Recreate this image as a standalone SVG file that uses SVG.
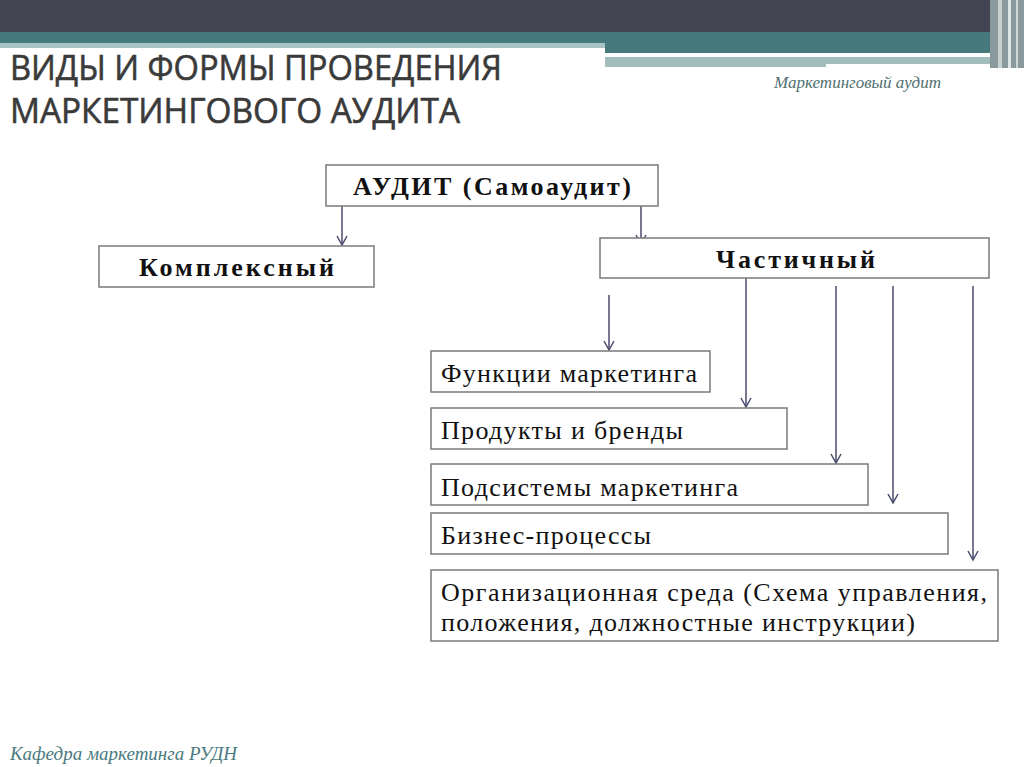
<svg xmlns="http://www.w3.org/2000/svg" width="1024" height="767" viewBox="0 0 1024 767">
<style>
.box{fill:#fff;stroke:#7a7a7a;stroke-width:1.5}
.t{font-family:"Liberation Serif",serif;font-size:26px;fill:#111}
.b{font-weight:bold}
.c line{stroke:#4b4b6e;stroke-width:1.5}
</style>
<defs><marker id="a" markerWidth="14" markerHeight="14" refX="10" refY="6" orient="auto" markerUnits="userSpaceOnUse"><path d="M1,1 L10,6 L1,11" fill="none" stroke="#4b4b6e" stroke-width="1.5"/></marker></defs>
<rect width="1024" height="767" fill="#fff"/>
<rect x="0" y="0" width="1024" height="32" fill="#424452"/>
<rect x="0" y="32" width="1000" height="11" fill="#45797c"/>
<rect x="0" y="43" width="605" height="5" fill="#a9c4c4"/>
<rect x="605" y="43" width="395" height="10" fill="#45797c"/>
<rect x="605" y="53" width="345" height="4" fill="#fff"/>
<rect x="605" y="57" width="400" height="10" fill="#a3bdbd"/>
<rect x="826" y="64" width="180" height="4" fill="#fff"/>
<rect x="990" y="0" width="34" height="68" fill="#8a9a9c"/>
<rect x="998" y="0" width="4" height="68" fill="#c8d0d0"/>
<rect x="1008" y="0" width="3" height="68" fill="#e0e5e5"/>
<rect x="1016" y="0" width="2" height="68" fill="#d0d6d6"/>
<text x="10" y="80" font-family="'Open Sans',sans-serif" font-size="35" fill="#3a3a3a" stroke="#3a3a3a" stroke-width="0.6" textLength="492" lengthAdjust="spacingAndGlyphs">ВИДЫ И ФОРМЫ ПРОВЕДЕНИЯ</text>
<text x="10" y="123" font-family="'Open Sans',sans-serif" font-size="35" fill="#3a3a3a" stroke="#3a3a3a" stroke-width="0.6" textLength="450" lengthAdjust="spacingAndGlyphs">МАРКЕТИНГОВОГО АУДИТА</text>
<text x="941" y="88" text-anchor="end" font-family="'Liberation Serif',serif" font-style="italic" font-size="17" fill="#4f6f72">Маркетинговый аудит</text>
<text x="10" y="760" font-family="'Liberation Serif',serif" font-style="italic" font-size="19" fill="#4a7a80">Кафедра маркетинга РУДН</text>
<g class="c">
<line x1="342" y1="206" x2="342" y2="245" marker-end="url(#a)"/>
<line x1="641" y1="206" x2="641" y2="244" marker-end="url(#a)"/>
<line x1="609" y1="295" x2="609" y2="350" marker-end="url(#a)"/>
<line x1="746" y1="278" x2="746" y2="407" marker-end="url(#a)"/>
<line x1="836" y1="286" x2="836" y2="463" marker-end="url(#a)"/>
<line x1="893" y1="286" x2="893" y2="503" marker-end="url(#a)"/>
<line x1="973" y1="286" x2="973" y2="560" marker-end="url(#a)"/>
</g>
<g id="audit"><rect class="box" x="326" y="165" width="332" height="41"/><text class="t b" x="353" y="195" textLength="278">АУДИТ (Самоаудит)</text></g>
<g id="kompl"><rect class="box" x="99" y="246" width="275" height="41"/><text class="t b" x="139" y="276" textLength="195">Комплексный</text></g>
<g id="chast"><rect class="box" x="600" y="238" width="389" height="40"/><text class="t b" x="716" y="268" textLength="159">Частичный</text></g>
<g id="f"><rect class="box" x="431" y="351" width="279" height="41"/><text class="t" x="441" y="382" textLength="256">Функции маркетинга</text></g>
<g id="p"><rect class="box" x="431" y="408" width="356" height="41"/><text class="t" x="441" y="439" textLength="242">Продукты и бренды</text></g>
<g id="s"><rect class="box" x="431" y="464" width="437" height="41"/><text class="t" x="441" y="496" textLength="297">Подсистемы маркетинга</text></g>
<g id="bp"><rect class="box" x="431" y="513" width="517" height="41"/><text class="t" x="441" y="544" textLength="210">Бизнес-процессы</text></g>
<g id="org"><rect class="box" x="431" y="570" width="567" height="71"/><text class="t" x="441" y="601" textLength="546">Организационная среда (Схема  управления,</text><text class="t" x="441" y="631" textLength="474">положения, должностные инструкции)</text></g>
</svg>
